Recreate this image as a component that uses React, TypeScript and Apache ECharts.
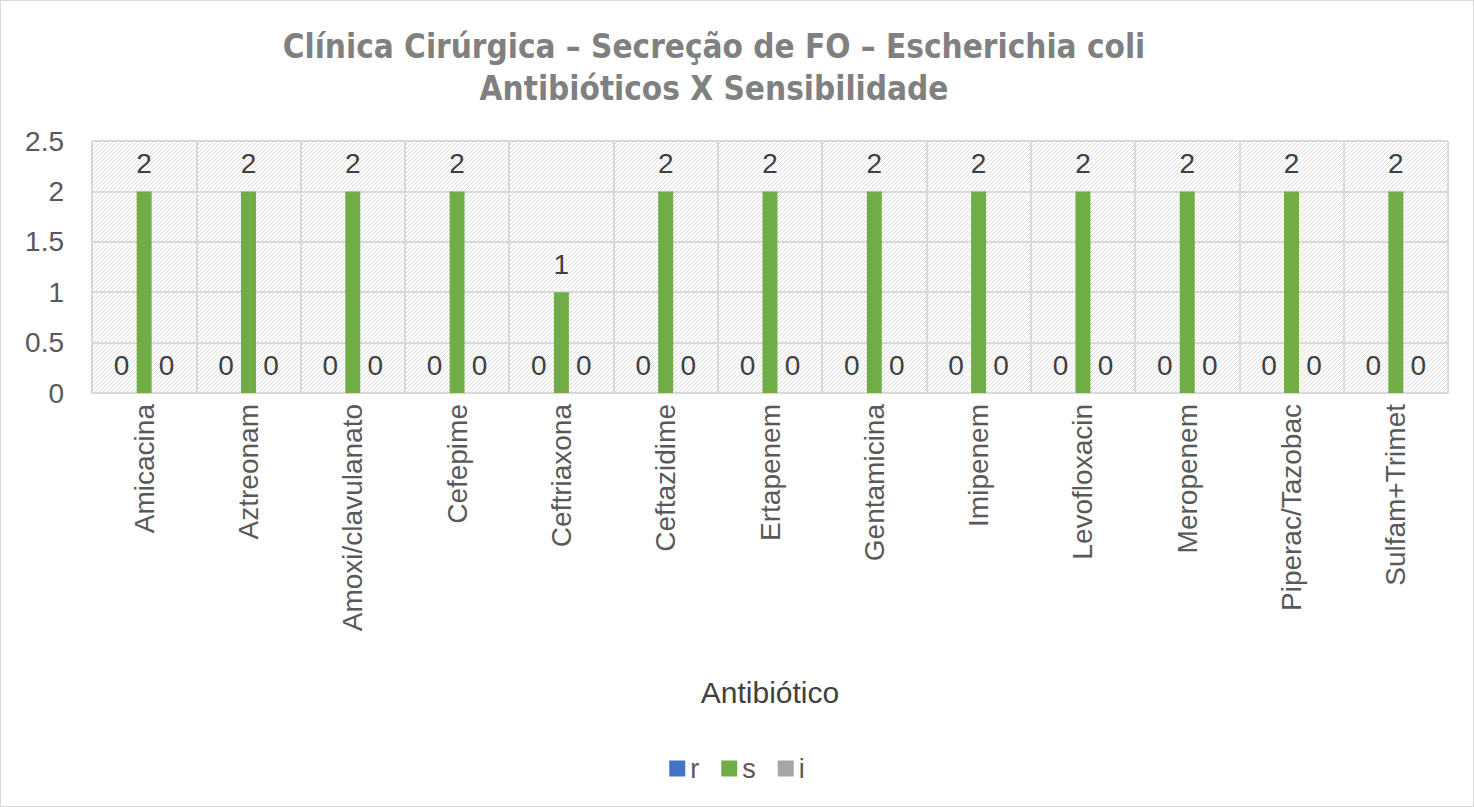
import React, { useEffect, useRef } from "react";
import * as echarts from "echarts";

const categories = [
  "Amicacina", "Aztreonam", "Amoxi/clavulanato", "Cefepime", "Ceftriaxona",
  "Ceftazidime", "Ertapenem", "Gentamicina", "Imipenem", "Levofloxacin",
  "Meropenem", "Piperac/Tazobac", "Sulfam+Trimet",
];
const seriesR = [0, 0, 0, 0, 0, 0, 0, 0, 0, 0, 0, 0, 0];
const seriesS = [2, 2, 2, 2, 1, 2, 2, 2, 2, 2, 2, 2, 2];
const seriesI = [0, 0, 0, 0, 0, 0, 0, 0, 0, 0, 0, 0, 0];
const seriesNames = ["r", "s", "i"];
const seriesColors = ["#4472C4", "#70AD47", "#A5A5A5"];

function makePattern(): string {
  const c = document.createElement("canvas");
  c.width = 8;
  c.height = 8;
  const ctx = c.getContext("2d");
  if (!ctx) return "#f2f2f2";
  ctx.fillStyle = "#ffffff";
  ctx.fillRect(0, 0, 8, 8);
  ctx.fillStyle = "#dcdcdc";
  for (let i = 0; i < 8; i++) {
    ctx.fillRect((8 - i) % 8, i, 1, 1);
    ctx.fillRect((12 - i) % 8, i, 1, 1);
  }
  return c.toDataURL();
}

export default function App() {
  const ref = useRef<HTMLDivElement>(null);
  useEffect(() => {
    if (!ref.current) return;
    const chart = echarts.init(ref.current, null, { renderer: "svg" });
    const url = makePattern();
    const img = new Image();
    img.src = url;
    const font = "Liberation Sans";
    const labelCfg = {
      show: true,
      position: "top" as const,
      distance: 14,
      color: "#404040",
      fontSize: 28,
      fontFamily: font,
    };
    const data = [seriesR, seriesS, seriesI];
    const build = (bg: any) => ({
      animation: false,
      backgroundColor: "#ffffff",
      title: {
        text: "Clínica Cirúrgica – Secreção de FO – Escherichia coli\nAntibióticos X Sensibilidade",
        left: 708,
        textAlign: "center",
        top: 19,
        textStyle: {
          fontFamily: "'DejaVu Sans Condensed', 'Liberation Sans', sans-serif",
          fontWeight: "bold",
          fontSize: 33,
          color: "#808080",
          lineHeight: 42,
        },
      },
      legend: {
        bottom: 19,
        left: "center",
        itemWidth: 16,
        itemHeight: 16,
        itemGap: 22,
        icon: "rect",
        textStyle: { fontSize: 27, color: "#595959", fontFamily: font },
        data: seriesNames,
      },
      grid: {
        left: 91,
        right: 25,
        top: 140,
        bottom: 413,
        show: true,
        backgroundColor: bg,
        borderWidth: 0,
      },
      xAxis: {
        type: "category",
        data: categories,
        name: "Antibiótico",
        nameLocation: "middle",
        nameGap: 284,
        nameTextStyle: { fontSize: 30, color: "#404040", fontFamily: font },
        axisLine: { show: true, lineStyle: { color: "#d9d9d9", width: 2 } },
        axisTick: { show: false },
        splitLine: { show: true, lineStyle: { color: "#d9d9d9", width: 2 } },
        axisLabel: {
          rotate: 90,
          interval: 0,
          fontSize: 28,
          color: "#595959",
          fontFamily: font,
          margin: 11,
        },
      },
      yAxis: {
        type: "value",
        min: 0,
        max: 2.5,
        interval: 0.5,
        axisLine: { show: false },
        axisTick: { show: false },
        splitLine: { show: true, lineStyle: { color: "#d9d9d9", width: 2 } },
        axisLabel: {
          fontSize: 28,
          color: "#595959",
          fontFamily: font,
          margin: 28,
        },
      },
      series: seriesNames.map((n, k) => ({
        name: n,
        type: "bar",
        data: data[k],
        barWidth: 15,
        barGap: "50%",
        itemStyle: { color: seriesColors[k] },
        label: labelCfg,
      })),
    });
    chart.setOption(build({ image: img, repeat: "repeat" }));
    img.onload = () => {
      chart.setOption(build({ image: img, repeat: "repeat" }));
    };
    return () => chart.dispose();
  }, []);
  return (
    <div
      style={{
        position: "fixed",
        left: 0,
        top: 0,
        width: 1474,
        height: 807,
        boxSizing: "border-box",
        border: "1px solid #d9d9d9",
        background: "#fff",
      }}
    >
      <div ref={ref} style={{ width: 1472, height: 805 }} />
    </div>
  );
}
